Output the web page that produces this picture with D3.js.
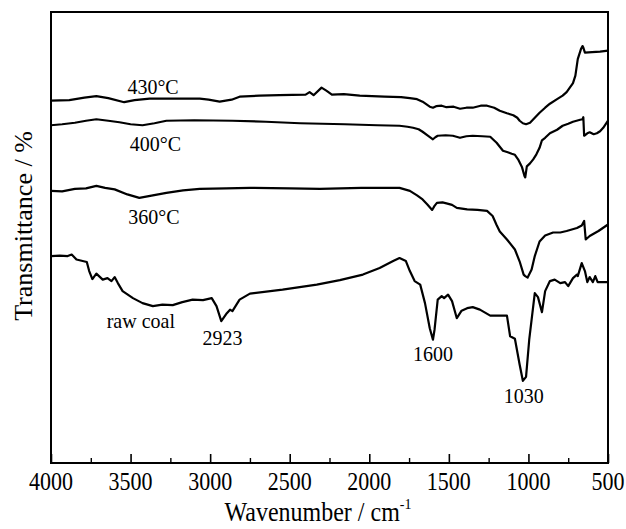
<!DOCTYPE html>
<html>
<head>
<meta charset="utf-8">
<script src="https://cdn.jsdelivr.net/npm/d3@7"></script>
<style>
  html, body { margin: 0; padding: 0; background: #fff; }
  svg text { font-family: "Liberation Serif", "Times New Roman", serif; fill: #000; }
</style>
</head>
<body>
<svg id="chart" width="626" height="529"></svg>
<script>
// FTIR spectra: [wavenumber (cm^-1), transmittance (a.u., offset per sample)]
const spectrum430 = [
  [4000,72.3],[3885,72.4],[3790,72.9],[3715,73.2],[3640,72.8],[3540,72.0],[3475,72.4],
  [3380,72.7],[3240,72.7],[3065,72.7],[3010,72.5],[2940,72.1],[2865,72.5],[2815,73.1],
  [2690,73.3],[2565,73.4],[2400,73.5],[2375,74.0],[2350,73.4],[2300,74.9],[2270,74.3],
  [2235,73.5],[2160,73.6],[2060,73.3],[1905,73.1],[1800,73.0],[1745,72.8],[1700,72.6],
  [1665,72.1],[1620,71.1],[1600,70.9],[1580,71.2],[1545,71.3],[1515,71.0],[1470,71.1],
  [1430,70.7],[1390,70.9],[1350,70.9],[1300,71.3],[1260,71.3],[1215,70.9],[1180,70.3],
  [1135,69.8],[1095,69.4],[1070,68.9],[1055,68.3],[1035,67.8],[1015,67.6],[990,67.9],
  [960,68.9],[930,69.9],[895,70.9],[865,71.7],[820,72.6],[785,73.3],[760,74.0],
  [740,74.9],[720,75.8],[705,77.3],[690,80.6],[670,82.6],[660,83.2],[655,82.9],
  [645,81.9],[600,82.0],[550,82.1],[500,82.3]
];
const spectrum400 = [
  [4000,67.4],[3930,67.6],[3850,67.9],[3780,68.3],[3715,68.6],[3640,68.3],[3570,68.0],
  [3500,67.6],[3425,67.4],[3350,67.8],[3275,68.3],[3100,68.4],[2860,68.3],[2650,68.1],
  [2435,67.8],[2155,67.6],[1950,67.4],[1810,67.3],[1760,67.1],[1725,66.9],[1690,66.6],
  [1665,66.1],[1630,65.3],[1600,64.6],[1585,65.0],[1570,65.3],[1520,65.4],[1475,65.3],
  [1430,64.9],[1390,65.2],[1350,65.3],[1290,65.2],[1240,65.1],[1200,63.9],[1160,62.3],
  [1130,62.0],[1105,61.7],[1085,61.5],[1065,60.6],[1040,59.0],[1025,57.3],[1020,57.0],
  [1010,59.2],[990,59.8],[970,60.6],[950,61.6],[930,62.9],[915,64.4],[895,64.9],
  [865,65.8],[820,66.5],[785,67.3],[750,67.7],[720,68.1],[675,68.5],[660,68.6],
  [655,69.0],[650,65.3],[630,65.8],[615,66.0],[590,65.6],[570,65.8],[550,66.2],
  [530,66.9],[500,68.3]
];
const spectrum360 = [
  [4000,54.3],[3930,54.2],[3850,54.7],[3780,54.8],[3715,55.3],[3660,54.9],[3600,54.6],
  [3520,53.6],[3445,52.9],[3360,53.4],[3275,53.9],[3170,54.4],[3065,54.7],[2900,54.8],
  [2750,54.9],[2500,54.8],[2310,54.7],[2050,54.9],[1810,54.9],[1745,54.3],[1700,53.4],
  [1665,52.6],[1635,51.6],[1605,50.5],[1590,51.3],[1575,51.9],[1540,52.0],[1515,51.8],
  [1480,51.5],[1450,50.9],[1385,50.6],[1320,50.5],[1260,50.3],[1225,49.3],[1200,47.5],
  [1180,46.2],[1135,44.6],[1085,42.6],[1055,40.2],[1030,37.6],[1020,37.3],[1005,37.0],
  [980,38.6],[960,41.3],[930,44.2],[895,45.4],[845,46.0],[800,46.0],[760,46.3],
  [695,46.9],[665,47.4],[650,48.3],[640,44.6],[615,45.3],[560,46.3],[500,47.6]
];
const spectrumRawCoal = [
  [4000,41.3],[3945,41.4],[3895,41.3],[3870,41.6],[3840,40.6],[3775,40.1],[3760,38.3],
  [3740,36.7],[3715,37.8],[3675,36.6],[3645,36.9],[3620,36.3],[3600,37.1],[3580,35.9],
  [3550,34.3],[3485,32.9],[3425,31.9],[3360,31.3],[3300,31.6],[3235,31.5],[3175,32.1],
  [3110,32.6],[3045,32.5],[2990,32.9],[2960,31.3],[2930,28.3],[2895,29.9],[2875,30.6],
  [2860,30.3],[2815,32.6],[2750,33.8],[2545,34.6],[2330,35.6],[2185,36.5],[2040,37.6],
  [1935,38.9],[1850,40.3],[1810,40.9],[1770,40.3],[1745,38.3],[1715,36.3],[1680,35.6],
  [1650,31.9],[1620,26.9],[1600,24.6],[1590,26.6],[1570,32.6],[1545,33.3],[1530,32.9],
  [1505,33.6],[1480,32.3],[1450,28.9],[1420,30.4],[1385,30.9],[1350,31.1],[1305,30.6],
  [1240,29.4],[1135,29.4],[1115,25.3],[1085,24.8],[1055,19.6],[1035,16.4],[1015,17.2],
  [995,24.6],[960,33.9],[940,33.1],[915,30.1],[895,34.3],[865,36.3],[835,36.6],
  [800,35.9],[770,36.1],[750,35.3],[720,36.9],[695,37.6],[690,37.3],[665,39.9],
  [645,38.3],[630,36.1],[615,37.1],[595,36.1],[580,37.3],[565,36.1],[500,36.1]
];

const xTickValues = [4000, 3500, 3000, 2500, 2000, 1500, 1000, 500];
const xMinorTicks = [3750, 3250, 2750, 2250, 1750, 1250, 750];

// Sample labels and peak annotations: [text, wavenumber, transmittance]
const sampleLabels = [
  ["430°C", 3520, 73.6],
  ["400°C", 3505, 62.2],
  ["360°C", 3515, 47.6],
  ["raw coal", 3650, 27.0]
];
const peakLabels = [
  ["2923", 2923, 23.6],
  ["1600", 1600, 20.4],
  ["1030", 1030, 12.0]
];

const svg = d3.select("#chart");
const plotLeft = 51, plotRight = 608, plotTop = 12, plotBottom = 463;

const x = d3.scaleLinear().domain([4000, 500]).range([plotLeft, plotRight]);
const y = d3.scaleLinear().domain([0, 90]).range([plotBottom, plotTop]);

const stretch = 1.1;

function label(sel, txt, px, py, size, anchor) {
  return sel.append("text")
    .attr("transform", `translate(${px},${py}) scale(1,${stretch})`)
    .attr("text-anchor", anchor || "middle")
    .style("font-size", size + "px")
    .text(txt);
}

// Spectra
const line = d3.line().x(d => x(d[0])).y(d => y(d[1]));
[spectrum430, spectrum400, spectrum360, spectrumRawCoal].forEach(s => {
  svg.append("path")
    .datum(s)
    .attr("d", line)
    .attr("fill", "none")
    .attr("stroke", "#000")
    .attr("stroke-width", 2.2)
    .attr("stroke-linejoin", "round");
});

// Bottom axis: inward ticks, major and minor
const axisG = svg.append("g").attr("transform", `translate(0,${plotBottom})`);
axisG.call(d3.axisBottom(x).tickValues(xTickValues).tickSize(-9).tickFormat(""))
  .call(g => g.select(".domain").remove())
  .call(g => g.selectAll(".tick line").attr("stroke-width", 1.6));
axisG.append("g")
  .call(d3.axisBottom(x).tickValues(xMinorTicks).tickSize(-5).tickFormat(""))
  .call(g => g.select(".domain").remove())
  .call(g => g.selectAll(".tick line").attr("stroke-width", 1.4));

xTickValues.forEach(v => label(svg, String(v), x(v), 490, 22));

// Frame
svg.append("rect")
  .attr("x", plotLeft).attr("y", plotTop)
  .attr("width", plotRight - plotLeft).attr("height", plotBottom - plotTop)
  .attr("fill", "none").attr("stroke", "#000").attr("stroke-width", 2);

// Axis titles
const xt = svg.append("text")
  .attr("transform", `translate(318,521) scale(1,${stretch})`)
  .attr("text-anchor", "middle")
  .style("font-size", "24px");
xt.append("tspan").text("Wavenumber / cm");
xt.append("tspan").attr("dy", -11).style("font-size", "14px").text("-1");

svg.append("text")
  .attr("transform", "translate(32,226) rotate(-90)")
  .attr("text-anchor", "middle")
  .style("font-size", "26px")
  .text("Transmittance / %");

// Annotations
sampleLabels.forEach(d => label(svg, d[0], x(d[1]), y(d[2]), 20, "start"));
peakLabels.forEach(d => label(svg, d[0], x(d[1]), y(d[2]), 20, "middle"));
</script>
</body>
</html>
